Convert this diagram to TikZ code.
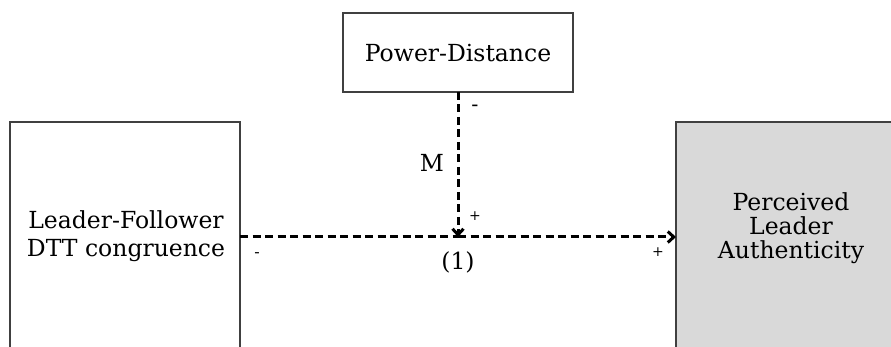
\documentclass[tikz,border=0pt]{standalone}
\usepackage{fontspec}
\setmainfont{DejaVu Serif}
\usetikzlibrary{arrows.meta}
\begin{document}
\begin{tikzpicture}[x=1pt,y=-1pt,
  box/.style={draw=black!75,line width=1.3pt,inner sep=0pt},
  lbl/.style={font=\fontsize{23.5}{28.5}\selectfont,align=center},
  sml/.style={font=\fontsize{14}{16}\selectfont,inner sep=0pt},
  conn/.style={line width=3pt,dash pattern=on 8pt off 4.5pt,-{Straight Barb[length=6pt,width=11pt,line width=3pt]}}]
\useasboundingbox (0,0) rectangle (891,347);
\begin{scope}
\clip (0,0) rectangle (891,347);
\draw[box] (10,122) rectangle (240,360);
\draw[box,fill=black!15] (676,122) rectangle (920,360);
\draw[box] (343,13) rectangle (573,92);
\end{scope}
\node[lbl] (lf) at (126,236) {Leader-Follower\\DTT congruence};
\node[lbl,font=\fontsize{23.5}{24}\selectfont] (pla) at (791,228) {Perceived\\Leader\\Authenticity};
\node[lbl] (pd) at (458,53) {Power-Distance};
\coordinate (lfE) at (240,237);
\coordinate (plaW) at (676,237);
\coordinate (pdS) at (458,92);
\coordinate (mid) at (458,237);
\draw[conn,-] (lfE) -- (mid);
\draw[conn] (mid) -- (plaW);
\draw[conn] (pdS) -- (mid);
\node[sml,font=\fontsize{21}{24}\selectfont] (m1) at (475,108) {-};
\node[lbl] (M) at (432,163) {M};
\node[sml] (p1) at (475,216) {+};
\node[lbl] (one) at (458,262) {(1)};
\node[sml] (p2) at (658,252) {+};
\node[sml,font=\fontsize{16}{18}\selectfont] (m2) at (257,255) {-};
\end{tikzpicture}
\end{document}
